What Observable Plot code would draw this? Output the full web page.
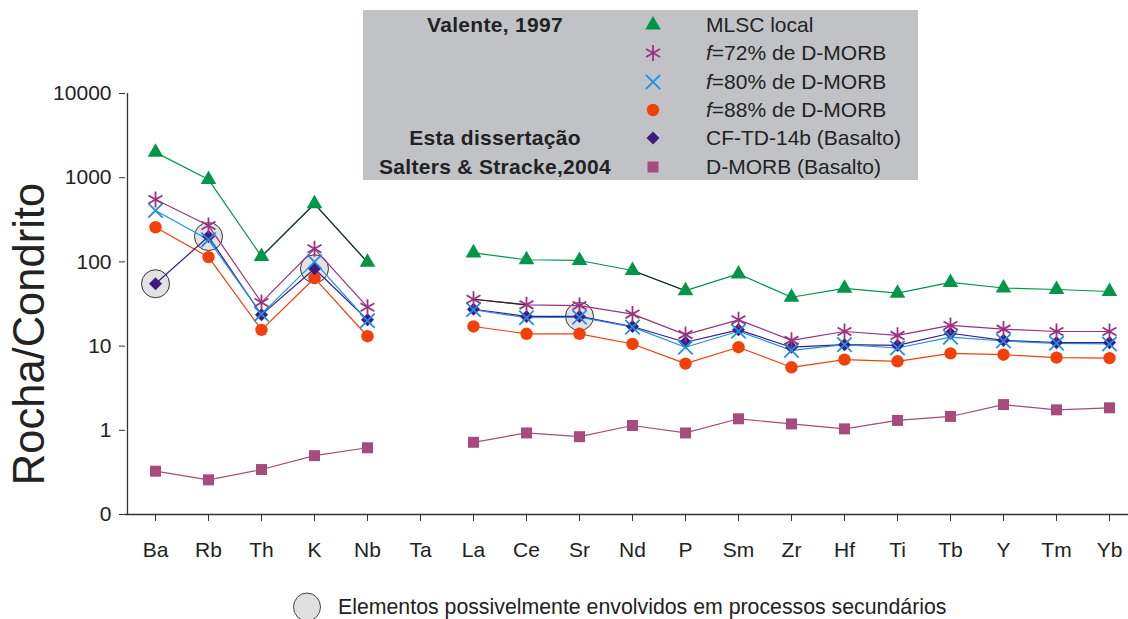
<!DOCTYPE html>
<html><head><meta charset="utf-8">
<script src="https://cdn.jsdelivr.net/npm/d3@7"></script>
<script src="https://cdn.jsdelivr.net/npm/@observablehq/plot@0.6"></script>
<style>
body{margin:0;background:#fff;font-family:"Liberation Sans",Arial,sans-serif;color:#222;}
#wrap{position:relative;width:1128px;height:619px;overflow:hidden;}
#chart{position:absolute;left:0;top:0;}
#legend{position:absolute;left:363px;top:10px;width:555px;height:170px;background:#c0c2c6;}
.row{position:absolute;left:0;width:555px;height:28px;}
.src{position:absolute;left:0;width:264px;text-align:center;font-weight:bold;font-size:21px;letter-spacing:0.3px;line-height:28px;top:0;}
.sym{position:absolute;left:280px;top:4px;width:20px;height:20px;}
.lab{position:absolute;left:343px;font-size:21px;line-height:28px;top:0;white-space:nowrap;}
#caption{position:absolute;left:290px;top:593px;height:28px;white-space:nowrap;}
#caption span{position:absolute;left:48px;top:1px;font-size:21.3px;line-height:26px;}
</style></head><body>
<div id="wrap"><div id="chart"></div><div id="legend"></div><div id="caption"></div></div>
<script>
const elements = ["Ba","Rb","Th","K","Nb","Ta","La","Ce","Sr","Nd","P","Sm","Zr","Hf","Ti","Tb","Y","Tm","Yb"];
const mlscLocal = [2000, 950, 116, 490, 99, null, 128, 106, 104, 79, 45.5, 72, 38, 48.5, 42.5, 57, 49, 47, 44.5];
const f72 = [550, 270, 33, 143, 29, null, 36, 30.9, 30.3, 24, 13.7, 20.5, 11.7, 14.9, 13.4, 17.6, 15.9, 14.9, 14.9];
const f80 = [408, 183, 24, 100, 20, null, 27, 21.7, 22, 16.8, 9.7, 15, 8.9, 10.4, 9.5, 12.8, 11.5, 10.8, 10.6];
const f88 = [258, 114, 15.6, 64, 13.1, null, 17.1, 14, 14, 10.6, 6.2, 9.7, 5.6, 6.9, 6.6, 8.2, 7.9, 7.3, 7.2];
const cfTD14b = [55, 200, 23.5, 83, 20.5, null, 27.4, 22.5, 22.5, 17.1, 11.1, 15.6, 9.7, 10.4, 10.2, 14.2, 11.7, 11, 11];
const dMORB = [0.327, 0.258, 0.342, 0.5, 0.62, null, 0.72, 0.93, 0.84, 1.14, 0.93, 1.37, 1.19, 1.04, 1.31, 1.46, 2.02, 1.75, 1.85];

const yTicks = [0.1, 1, 10, 100, 1000, 10000];
const yTickLabels = ["0", "1", "10", "100", "1000", "10000"];
const highlighted = ["Ba", "Rb", "K", "Sr"];
const blackSegments = [["MLSC local","Th","K"],["MLSC local","K","Nb"],["MLSC local","Nd","P"],["f=72% de D-MORB","La","Ce"]];

const series = [
  {name:"D-MORB (Basalto)", values:dMORB, color:"#a64b7b", symbol:"square", r:6.2, rotate:0, src:"Salters & Stracke,2004"},
  {name:"f=88% de D-MORB", values:f88, color:"#f0410a", symbol:"circle", r:6.2, rotate:0, src:""},
  {name:"CF-TD-14b (Basalto)", values:cfTD14b, color:"#3d1c80", symbol:"square", r:5.2, rotate:45, src:"Esta dissertação"},
  {name:"f=80% de D-MORB", values:f80, color:"#1f8fe3", symbol:"times", r:6.6, rotate:0, src:"", stroke:true},
  {name:"f=72% de D-MORB", values:f72, color:"#9a3282", symbol:"asterisk", r:7.6, rotate:0, src:"", stroke:true},
  {name:"MLSC local", values:mlscLocal, color:"#00964a", symbol:"triangle", r:5.8, rotate:0, src:"Valente, 1997"}
];

const rows = [];
series.forEach(s => s.values.forEach((v, i) => rows.push({series: s.name, el: elements[i], v})));
const valueOf = (name, el) => rows.find(d => d.series === name && d.el === el).v;
const hiRows = highlighted.map(el => ({el, v: valueOf("CF-TD-14b (Basalto)", el)}));
const segRows = blackSegments.map(([s, a, b]) => ({a, b, va: valueOf(s, a), vb: valueOf(s, b)}));

const marks = [
  Plot.ruleY([0.1], {stroke:"#333", strokeWidth:1.3}),
  Plot.ruleX(["Ba"], {y1:0.1, y2:10000, dx:-28, stroke:"#333", strokeWidth:1.3}),
  Plot.axisY({ticks: yTicks, tickFormat: d => yTickLabels[yTicks.indexOf(d)], tickSize:6, tickPadding:8, fontSize:21, label:null, stroke:"#333", fill:"#222"}),
  Plot.axisX({tickSize:7, tickPadding:21, fontSize:21, label:null, stroke:"#333", fill:"#222"}),
  Plot.dot(hiRows, {x:"el", y:"v", r:14, fill:"#e2e2e2", stroke:"#333", strokeWidth:1})
];
series.forEach(s => {
  const data = rows.filter(d => d.series === s.name);
  marks.push(Plot.line(data, {x:"el", y:"v", stroke:s.color, strokeWidth:1.2}));
});
marks.push(Plot.link(segRows, {x1:"a", x2:"b", y1:"va", y2:"vb", stroke:"#222", strokeWidth:1.1}));
series.forEach(s => {
  const data = rows.filter(d => d.series === s.name && d.v != null);
  marks.push(Plot.dot(data, s.stroke
    ? {x:"el", y:"v", symbol:()=>s.symbol, r:s.r, stroke:s.color, strokeWidth:1.8, fill:"none"}
    : {x:"el", y:"v", symbol:()=>s.symbol, r:s.r, fill:s.color, rotate:s.rotate, stroke:"none"}));
});
marks.push(Plot.text(["Rocha/Condrito"], {text: d => d, frameAnchor:"left", rotate:-90, dx:-82, dy:30, lineAnchor:"bottom", textAnchor:"middle", fontSize:43.5, fill:"#222"}));

const plot = Plot.plot({
  width:1128, height:575,
  marginLeft:125, marginRight:0, marginTop:93, marginBottom:61,
  style:{fontFamily:"'Liberation Sans', Arial, sans-serif", background:"transparent", color:"#222", overflow:"visible"},
  x:{type:"point", domain:elements, padding:0, insetLeft:28, insetRight:17},
  y:{type:"log", domain:[0.1, 10000]},
  symbol:{type:"identity"},
  marks
});
document.getElementById("chart").appendChild(plot);

// legend
const legendOrder = ["MLSC local","f=72% de D-MORB","f=80% de D-MORB","f=88% de D-MORB","CF-TD-14b (Basalto)","D-MORB (Basalto)"];
const rowTops = [1, 29.3, 57.7, 86, 114.3, 142.7];
const symMap = {circle:d3.symbolCircle, square:d3.symbolSquare, triangle:d3.symbolTriangle, times:d3.symbolTimes, asterisk:d3.symbolAsterisk};
const legend = document.getElementById("legend");
legendOrder.forEach((name, i) => {
  const s = series.find(d => d.name === name);
  const row = document.createElement("div");
  row.className = "row"; row.style.top = rowTops[i] + "px";
  const src = document.createElement("div"); src.className = "src"; src.textContent = s.src;
  const lab = document.createElement("div"); lab.className = "lab";
  if (name.startsWith("f=")) { lab.innerHTML = "<i>f</i>" + name.slice(1); } else lab.textContent = name;
  const svg = d3.create("svg").attr("class","sym").attr("width",20).attr("height",20);
  const path = svg.append("path").attr("transform", `translate(10,10) rotate(${s.rotate})`)
    .attr("d", d3.symbol(symMap[s.symbol], Math.PI * s.r * s.r)());
  if (s.stroke) path.attr("fill","none").attr("stroke", s.color).attr("stroke-width",1.8);
  else path.attr("fill", s.color);
  row.appendChild(src); row.appendChild(svg.node()); row.appendChild(lab);
  legend.appendChild(row);
});

// caption
const cap = document.getElementById("caption");
const cs = d3.create("svg").attr("width",34).attr("height",32).style("position","absolute").style("left","0px").style("top","-2px");
cs.append("ellipse").attr("cx",17).attr("cy",16).attr("rx",13.5).attr("ry",14).attr("fill","#e0e0e0").attr("stroke","#444").attr("stroke-width",1);
cap.appendChild(cs.node());
const ct = document.createElement("span"); ct.textContent = "Elementos possivelmente envolvidos em processos secundários";
cap.appendChild(ct);
</script></body></html>
